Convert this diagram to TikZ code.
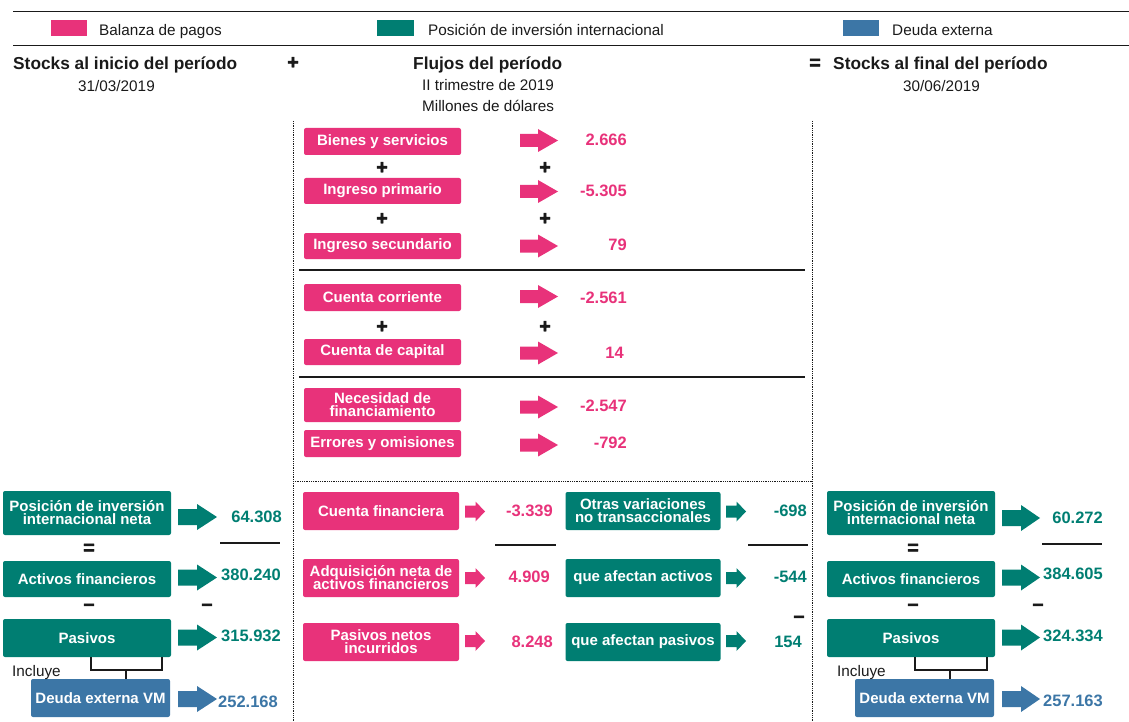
\documentclass[tikz,border=0pt]{standalone}
\usepackage{fontspec}
\setmainfont{Liberation Sans}
\newfontfamily\myopfam[FakeBold=2]{Liberation Sans}
\definecolor{bp}{HTML}{E8327A}
\definecolor{pii}{HTML}{007E72}
\definecolor{dex}{HTML}{3C76A6}
\definecolor{ink}{HTML}{1A1A1A}
\newcommand\myboxfont{\bfseries\fontsize{15}{13}\selectfont\lineskiplimit=-20pt\lineskip=0pt}
\newcommand\myvalfont{\bfseries\fontsize{16.5}{18}\selectfont}
\newcommand\myheadfont{\bfseries\fontsize{17.3}{20}\selectfont}
\newcommand\mysubfont{\fontsize{15.3}{18}\selectfont}
\newcommand\myopfont{\myopfam\bfseries\fontsize{20}{20}\selectfont}
% block arrow: x0, xhead, x1, yc, body half, head half, colour
\newcommand\blockarr[7]{%
  \fill[#7] (#1,#4-#5) -- (#2,#4-#5) -- (#2,#4-#6) -- (#3,#4) -- (#2,#4+#6) -- (#2,#4+#5) -- (#1,#4+#5) -- cycle;}
\begin{document}
\begin{tikzpicture}[x=1pt,y=-1pt,
  boxbase/.style={rounded corners=2pt, text=white, font=\myboxfont, align=center, inner sep=0pt},
  pbox/.style={boxbase, fill=bp},
  tbox/.style={boxbase, fill=pii},
  dbox/.style={boxbase, fill=dex},
  upbox/.style={pbox, minimum width=157pt, minimum height=27pt},
  lobox/.style={pbox, minimum width=156pt, minimum height=38pt},
  midbox/.style={tbox, minimum width=155pt, minimum height=38pt},
  sidebox/.style={tbox, minimum width=168pt},
  debtbox/.style={dbox, minimum width=139pt, minimum height=38pt},
  val/.style={anchor=east, font=\myvalfont, inner sep=0pt},
  pval/.style={val, text=bp},
  tval/.style={val, text=pii},
  dval/.style={val, text=dex},
  optext/.style={font=\myopfont, text=ink, inner sep=0pt},
  head/.style={anchor=base west, font=\myheadfont, text=ink, inner sep=0pt},
  sub/.style={anchor=base west, font=\mysubfont, text=ink, inner sep=0pt},
  rule/.style={line width=2.8pt, ink},
  brk/.style={line width=2.8pt, ink},
  sep/.style={ink, densely dotted, line width=0.8pt}
]
\useasboundingbox (0,0) rectangle (1129,722);

% ---------- legend ----------
\draw[ink, line width=1pt] (13,12) -- (1129,12);
\draw[ink, line width=1pt] (13,46) -- (1129,46);
\fill[bp] (51,20) rectangle (87,36);
\node[sub] (legbp) at (99,35.5) {Balanza de pagos};
\fill[pii] (377,20) rectangle (414,36);
\node[sub] (legpii) at (428,35.5) {Posición de inversión internacional};
\fill[dex] (843,20) rectangle (879,36);
\node[sub] (legde) at (892,35.5) {Deuda externa};

% ---------- headers ----------
\node[head] (hini) at (13,70) {Stocks al inicio del período};
\node[sub] (dini) at (78,92) {31/03/2019};
\node[optext] (hplus) at (293,63) {+};
\node[head] (hflu) at (413,70) {Flujos del período};
\node[sub] (dflu) at (422,91) {II trimestre de 2019};
\node[sub] (uflu) at (422,112) {Millones de dólares};
\node[optext] (heq) at (815,64) {=};
\node[head] (hfin) at (833,70) {Stocks al final del período};
\node[sub] (dfin) at (903,92) {30/06/2019};

% ---------- separators ----------
\draw[sep] (293,121) -- (293,722);
\draw[sep] (812,121) -- (812,722);
\draw[sep] (293,481) -- (812,481);
\draw[rule] (299,270) -- (805,270);
\draw[rule] (299,377) -- (805,377);

% ---------- current account block ----------
\node[upbox] (bys) at (382.5,141.5) {Bienes y servicios};
\node[upbox, minimum height=26pt] (ip) at (382.5,191) {Ingreso primario};
\node[upbox, minimum height=26pt] (is) at (382.5,246) {Ingreso secundario};
\node[upbox] (cc) at (382.5,297.5) {Cuenta corriente};
\node[upbox, minimum height=26pt] (ck) at (382.5,352) {Cuenta de capital};
\node[upbox, minimum height=34pt] (nf) at (382.5,405) {Necesidad de\\financiamiento};
\node[upbox] (eo) at (382.5,443.5) {Errores y omisiones};

\node[optext] (p1a) at (382,168) {+};
\node[optext] (p1b) at (545,168) {+};
\node[optext] (p2a) at (382,219) {+};
\node[optext] (p2b) at (545,219) {+};
\node[optext] (p3a) at (382,327) {+};
\node[optext] (p3b) at (545,327) {+};

\blockarr{520}{538}{558}{140.5}{6.5}{11.5}{bp}
\blockarr{520}{538}{558}{191.5}{6.5}{11.5}{bp}
\blockarr{520}{538}{558}{246}{6.5}{11.5}{bp}
\blockarr{520}{538}{558}{296.5}{6.5}{11.5}{bp}
\blockarr{520}{538}{558}{353}{6.5}{11.5}{bp}
\blockarr{520}{538}{558}{407}{6.5}{11.5}{bp}
\blockarr{520}{538}{558}{445}{6.5}{11.5}{bp}

\node[pval] (vbys) at (627,139.5) {2.666};
\node[pval] (vip) at (627,191) {-5.305};
\node[pval] (vis) at (627,245) {79};
\node[pval] (vcc) at (627,297.5) {-2.561};
\node[pval] (vck) at (624,352.5) {14};
\node[pval] (vnf) at (627,405.5) {-2.547};
\node[pval] (veo) at (627,442.5) {-792};

% ---------- financial account block ----------
\node[lobox] (cf) at (381,511) {Cuenta financiera};
\node[lobox] (adq) at (381,578) {Adquisición neta de\\activos financieros};
\node[lobox] (pni) at (381,642) {Pasivos netos\\incurridos};
\node[midbox] (ovt) at (643,511) {Otras variaciones\\no transaccionales};
\node[midbox] (qaa) at (643,578) {que afectan activos};
\node[midbox] (qap) at (643,642) {que afectan pasivos};

\blockarr{465}{475.5}{485}{511.5}{6}{10}{bp}
\blockarr{465}{475.5}{485}{578}{6}{10}{bp}
\blockarr{465}{475.5}{485}{641}{6}{10}{bp}
\blockarr{726}{736.5}{746}{511.5}{6}{10}{pii}
\blockarr{726}{736.5}{746}{578}{6}{10}{pii}
\blockarr{726}{736.5}{746}{641}{6}{10}{pii}

\node[pval] (vcf) at (553,511) {-3.339};
\node[pval] (vadq) at (550,577) {4.909};
\node[pval] (vpni) at (553,642) {8.248};
\node[tval] (vovt) at (807,511) {-698};
\node[tval] (vqaa) at (807,577) {-544};
\node[tval] (vqap) at (802,642) {154};
\draw[rule] (495,545) -- (556,545);
\draw[rule] (748,545) -- (808,545);
\node[optext] (mqap) at (799,619) {–};

% ---------- initial stocks ----------
\node[sidebox, minimum height=44pt] (piinL) at (87,513) {Posición de inversión\\internacional neta};
\node[sidebox, minimum height=36pt] (actL) at (87,579) {Activos financieros};
\node[sidebox, minimum height=38pt] (pasL) at (87,638) {Pasivos};
\node[debtbox] (deuL) at (100.5,698) {Deuda externa VM};
\node[optext] (eqL) at (89,549) {=};
\node[optext] (m1L) at (89,607) {–};
\node[optext] (m2L) at (207,607) {–};
\draw[rule] (220,543) -- (280,543);
\blockarr{178}{197}{217}{517}{8}{13}{pii}
\blockarr{178}{197}{217}{577.5}{8}{13}{pii}
\blockarr{178}{197}{217}{637.5}{8}{13}{pii}
\blockarr{178}{197}{217}{699}{8}{13}{dex}
\node[tval] (vpiinL) at (282,517) {64.308};
\node[tval] (vactL) at (281,575) {380.240};
\node[tval] (vpasL) at (281,636) {315.932};
\node[dval] (vdeuL) at (278,702) {252.168};
\coordinate (hL) at (126,670);
\draw[brk] ([xshift=4pt]pasL.south) |- (hL) -| ([xshift=75pt]pasL.south);
\draw[brk] (hL) -- (deuL.north -| hL);
\node[sub] (incL) at (12,676) {Incluye};

% ---------- final stocks ----------
\node[sidebox, minimum height=44pt] (piinR) at (911,513) {Posición de inversión\\internacional neta};
\node[sidebox, minimum height=36pt] (actR) at (911,579) {Activos financieros};
\node[sidebox, minimum height=38pt] (pasR) at (911,638) {Pasivos};
\node[debtbox] (deuR) at (924.5,698) {Deuda externa VM};
\node[optext] (eqR) at (913,549) {=};
\node[optext] (m1R) at (913,607) {–};
\node[optext] (m2R) at (1038,607) {–};
\draw[rule] (1042,544) -- (1102,544);
\blockarr{1002}{1021}{1040}{518}{8}{13}{pii}
\blockarr{1002}{1021}{1040}{577.5}{8}{13}{pii}
\blockarr{1002}{1021}{1040}{637.5}{8}{13}{pii}
\blockarr{1002}{1021}{1040}{699}{8}{13}{dex}
\node[tval] (vpiinR) at (1103,517.5) {60.272};
\node[tval] (vactR) at (1103,574) {384.605};
\node[tval] (vpasR) at (1103,636) {324.334};
\node[dval] (vdeuR) at (1103,701) {257.163};
\coordinate (hR) at (950,670);
\draw[brk] ([xshift=4pt]pasR.south) |- (hR) -| ([xshift=76pt]pasR.south);
\draw[brk] (hR) -- (deuR.north -| hR);
\node[sub] (incR) at (837,676) {Incluye};
\end{tikzpicture}
\end{document}
